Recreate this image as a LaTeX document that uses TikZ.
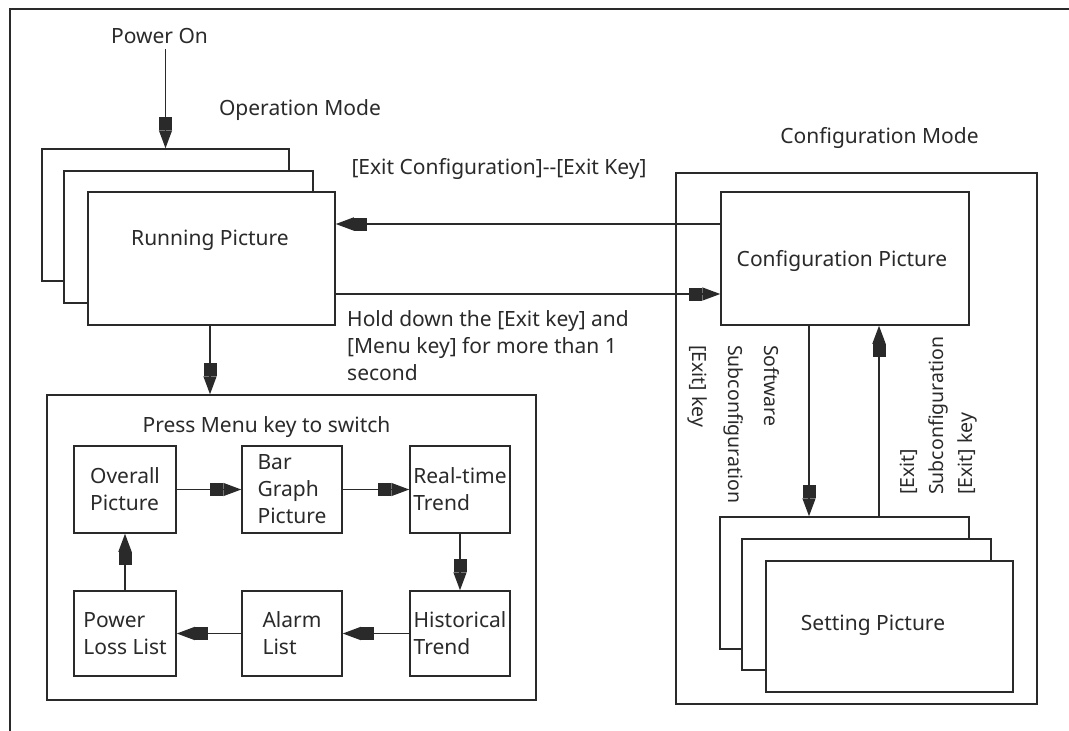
\documentclass[tikz,border=0pt]{standalone}
\usepackage{fontspec}
\setmainfont{Noto Sans}
\usetikzlibrary{arrows.meta}
\definecolor{ink}{HTML}{2A2A2A}
\tikzset{
  frame/.style={draw=ink, line width=1.5pt, fill=white, inner sep=0pt},
  txt/.style={text=ink, inner sep=0pt, font=\fontsize{21}{27}\selectfont},
  vtxt/.style={text=ink, inner sep=0pt, align=left},
  box/.style={frame, txt, align=left},
  arr/.style={draw=ink, line width=1.5pt,
    -{Rectangle[length=13pt,width=13pt]Triangle[length=18pt,width=13pt]}},
  border/.style={draw=ink, line width=1.5pt}
}
\begin{document}
\begin{tikzpicture}[x=1pt,y=-1pt]
\useasboundingbox[fill=white] (0,0) rectangle (1069,731);
% outer frame (top and left edges only)
\draw[border] (1069,9) -- (10,9) -- (10,731);

% labels
\node[txt, anchor=base] (pwr) at (159.5,43) {Power On};
\node[txt, anchor=base] (opmode) at (300,115) {Operation Mode};
\node[txt, anchor=base] (cfgmode) at (879.5,143) {Configuration Mode};
\node[txt, anchor=base] (exitlbl) at (499,174) {[Exit Configuration]-{}-[Exit Key]};
\node[txt, anchor=north west, align=left] (hold) at (347,310)
  {Hold down the [Exit key] and\\{[}Menu key] for more than 1\\second};

% running picture stack
\node[frame, minimum width=247pt, minimum height=132pt] (r1) at (165.5,215) {};
\node[frame, minimum width=249pt, minimum height=132pt] (r2) at (188.5,237) {};
\node[frame, minimum width=247pt, minimum height=133pt] (r3) at (211.5,258.5) {};
\node[txt, anchor=base] (runlbl) at (210,245) {Running Picture};

% configuration mode
\node[frame, fill=none, minimum width=361pt, minimum height=531pt] (cfgframe) at (856.5,438.5) {};
\node[frame, minimum width=248pt, minimum height=133pt] (cfgpic) at (845,258.5) {};
\node[txt, anchor=base] (cfglbl) at (842,266) {Configuration Picture};

% setting picture stack
\node[frame, minimum width=249pt, minimum height=132pt] (s1) at (844.5,583) {};
\node[frame, minimum width=249pt, minimum height=131pt] (s2) at (866.5,604.5) {};
\node[frame, minimum width=247pt, minimum height=131pt] (s3) at (889.5,626.5) {};
\node[txt, anchor=base] (setlbl) at (873,630) {Setting Picture};

% rotated labels
\node[vtxt, font=\fontsize{19.5}{36}\selectfont, rotate=-90, anchor=north west] (lsub) at (780,345)
  {Software\\Subconfiguration\\{[}Exit] key};
\node[vtxt, font=\fontsize{19.5}{29}\selectfont, rotate=90, anchor=north west] (rsub) at (900,495)
  {{[}Exit]\\Subconfiguration\\{[}Exit] key};

% menu group
\node[frame, minimum width=489pt, minimum height=305pt] (menu) at (291.5,547.5) {};
\node[txt, anchor=base] (menulbl) at (266.5,432) {Press Menu key to switch};
\node[box, minimum width=102pt, minimum height=87pt] (b1) at (125,489.5) {Overall\\Picture};
\node[box, minimum width=100pt, minimum height=87pt] (b2) at (292,489.5) {Bar\\Graph\\Picture};
\node[box, minimum width=100pt, minimum height=87pt] (b3) at (460,489.5) {Real-time\\Trend};
\node[box, minimum width=102pt, minimum height=85pt] (b4) at (125,633.5) {Power\\Loss List};
\node[box, minimum width=100pt, minimum height=85pt] (b5) at (292,633.5) {Alarm\\List};
\node[box, minimum width=100pt, minimum height=85pt] (b6) at (460,633.5) {Historical\\Trend};

% connectors
\draw[arr] (pwr.south -| r1.north) ++(0,6) -- (r1.north);
\draw[arr] (r3.south -| 210,0) -- (menu.north -| 210,0);
\draw[arr] (cfgpic.west |- 0,224) -- (r3.east |- 0,224);
\draw[arr] (r3.east |- 0,294) -- (cfgpic.west |- 0,294);
\draw[arr] (cfgpic.south -| 809,0) -- (s1.north -| 809,0);
\draw[arr] (s1.north -| 879,0) -- (cfgpic.south -| 879,0);
\draw[arr] (b1.east) -- (b2.west);
\draw[arr] (b2.east) -- (b3.west);
\draw[arr] (b3.south) -- (b6.north);
\draw[arr] (b6.west) -- (b5.east);
\draw[arr] (b5.west) -- (b4.east);
\draw[arr] (b4.north) -- (b1.south);
\end{tikzpicture}
\end{document}
